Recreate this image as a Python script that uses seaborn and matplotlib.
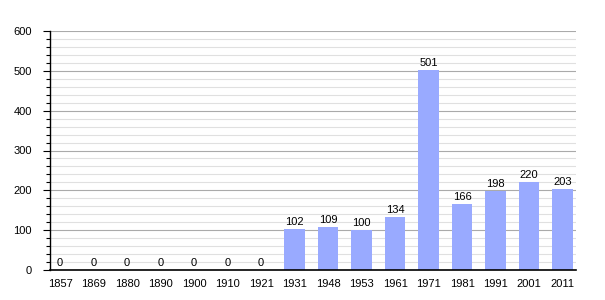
import matplotlib
matplotlib.use("Agg")
import matplotlib.pyplot as plt
import seaborn as sns
import pandas as pd
from matplotlib.ticker import MultipleLocator

years = ["1857", "1869", "1880", "1890", "1900", "1910", "1921", "1931",
         "1948", "1953", "1961", "1971", "1981", "1991", "2001", "2011"]
population = [0, 0, 0, 0, 0, 0, 0, 102, 109, 100, 134, 501, 166, 198, 220, 203]

df = pd.DataFrame({"year": years, "pop": population})

sns.set_style("white")
plt.rcParams['font.family'] = ['Liberation Sans', 'DejaVu Sans']
plt.rcParams['text.color'] = 'black'
plt.rcParams['xtick.color'] = 'black'
plt.rcParams['ytick.color'] = 'black'

fig = plt.figure(figsize=(6.05, 3.0), dpi=100)
ax = fig.add_axes([50/605, 30/300, 526/605, 239/300])

sns.barplot(data=df, x="year", y="pop", color="#99aaff", saturation=1,
            width=0.62, ax=ax, zorder=3, linewidth=0, edgecolor="none")

ax.set_ylim(0, 600)
ax.set_xlim(-0.3, 15.4)
ax.yaxis.set_major_locator(MultipleLocator(100))
ax.yaxis.set_minor_locator(MultipleLocator(20))
ax.grid(axis="y", which="major", color="#aaaaaa", linewidth=0.8, zorder=0)
ax.grid(axis="y", which="minor", color="#e0e0e0", linewidth=0.8, zorder=0)
ax.set_axisbelow(True)
for s in ["top", "right"]:
    ax.spines[s].set_visible(False)
ax.spines["left"].set_color("black")
ax.spines["bottom"].set_color("black")
ax.spines["left"].set_linewidth(1.0)
ax.spines["bottom"].set_linewidth(1.2)
ax.spines["bottom"].set_zorder(5)
ax.tick_params(axis="y", which="major", left=True, length=5, width=0.8,
               labelsize=8, pad=8, colors="black")
ax.tick_params(axis="y", which="minor", left=True, length=3, width=0.8, colors="black")
ax.tick_params(axis="x", bottom=False, labelsize=8, pad=3, colors="black")
ax.set_xlabel("")
ax.set_ylabel("")

for i, v in enumerate(population):
    ax.text(i, v + 5, str(v), ha="center", va="bottom", fontsize=8, color="black")

fig.savefig("out.png", dpi=100)
